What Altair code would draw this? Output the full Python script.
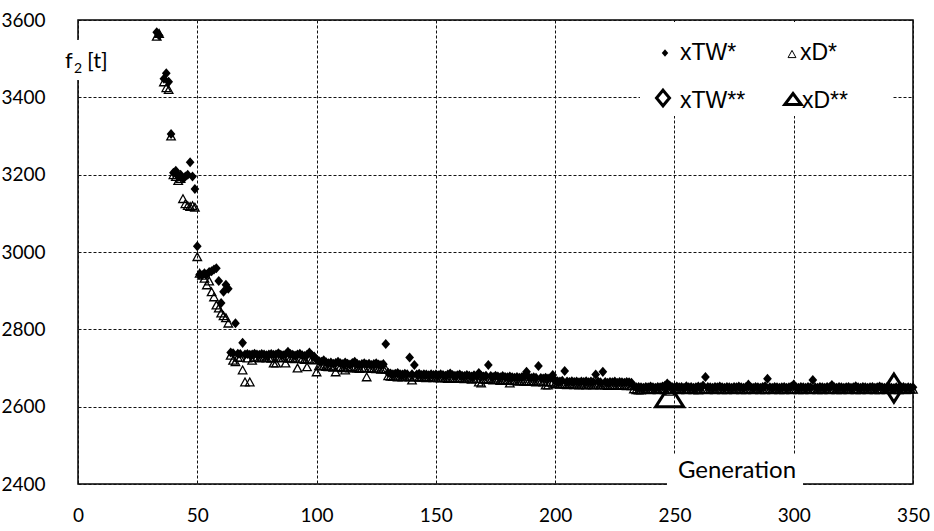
import altair as alt
import pandas as pd

# ---------------- data ----------------
generations = [33, 34] + list(range(36, 351))

xTW_star = [
    3568, 3560,
    3448, 3462, 3440, 3305, 3205, 3210, 3195, 3200, 3190, 3195, 3200, 3232, 3195, 3163, 3015,
    2942, 2940, 2945, 2942, 2948, 2950, 2955, 2958, 2925, 2868, 2897, 2915, 2905,
    2740, 2738, 2816, 2737, 2736, 2765, 2735, 2736, 2734, 2735,
    2737, 2735, 2734, 2736, 2735, 2733, 2735, 2736, 2734, 2735,
    2738, 2734, 2733, 2735, 2742, 2736, 2734, 2732, 2735, 2737,
    2733, 2731, 2734, 2740, 2733, 2730,
    2722, 2718, 2716, 2720, 2715, 2712, 2714, 2711, 2713, 2716,
    2712, 2710, 2714, 2711, 2709, 2713, 2716, 2711, 2708, 2710,
    2712, 2709, 2711, 2708, 2710, 2712, 2709, 2708, 2710, 2762,
    2688, 2686, 2684, 2685, 2687, 2684, 2683, 2685, 2684, 2727,
    2684, 2708, 2683, 2685, 2682, 2684, 2683, 2681, 2684, 2682,
    2683, 2681, 2684, 2682, 2680, 2683, 2686, 2682, 2680, 2681,
    2683, 2680, 2679, 2682, 2680, 2678, 2681, 2679, 2687, 2680,
    2678, 2680, 2708, 2679, 2677, 2680, 2678, 2676, 2679, 2677,
    2676, 2678, 2676, 2675, 2677, 2675, 2676, 2680, 2690, 2676,
    2674, 2676, 2675, 2705, 2674, 2673, 2675, 2673, 2674, 2682,
    2668, 2666, 2665, 2667, 2692, 2665, 2664, 2666, 2664, 2665,
    2663, 2665, 2664, 2666, 2663, 2665, 2664, 2683, 2665, 2663,
    2690, 2664, 2662, 2664, 2663, 2665, 2662, 2664, 2663, 2662,
    2664, 2663, 2662,
    2652, 2650, 2651, 2650, 2649, 2651, 2650, 2652, 2650, 2649,
    2651, 2650, 2652, 2654, 2660, 2655, 2651, 2650, 2652, 2650,
    2651, 2649, 2653, 2650, 2651, 2649, 2650, 2652, 2650, 2655,
    2677, 2651, 2650, 2649, 2651, 2650, 2652, 2650, 2649, 2651,
    2650, 2649, 2651, 2650, 2652, 2650, 2649, 2651, 2657, 2650,
    2649, 2651, 2650, 2649, 2651, 2653, 2672, 2650, 2649, 2651,
    2650, 2649, 2650, 2651, 2649, 2650, 2652, 2657, 2650, 2649,
    2651, 2650, 2649, 2651, 2650, 2669, 2650, 2649, 2651, 2650,
    2649, 2651, 2650, 2656, 2650, 2649, 2651, 2650, 2649, 2650,
    2651, 2649, 2650, 2653, 2650, 2649, 2651, 2650, 2649, 2650,
    2651, 2649, 2650, 2652, 2650, 2649, 2650, 2651, 2649, 2648,
    2650, 2649, 2650, 2651, 2649, 2650, 2649, 2650,
]

xD_star = [
    3558, 3565,
    3440, 3425, 3420, 3300, 3200, 3195, 3185, 3190, 3138, 3125, 3120, 3118, 3120, 3116, 2988,
    2945, 2940, 2932, 2915, 2925, 2897, 2884, 2863, 2855, 2842, 2835, 2830, 2816,
    2733, 2720, 2716, 2728, 2727, 2695, 2664, 2726, 2664, 2720,
    2727, 2728, 2726, 2727, 2728, 2726, 2727, 2725, 2713, 2713,
    2727, 2726, 2727, 2713, 2726, 2725, 2726, 2724, 2700, 2725,
    2724, 2722, 2703, 2723, 2722, 2721,
    2690, 2706, 2705, 2707, 2704, 2703, 2705, 2702, 2690, 2704,
    2703, 2701, 2695, 2702, 2700, 2703, 2701, 2700, 2699, 2701,
    2700, 2677, 2700, 2699, 2700, 2698, 2699, 2697, 2698, 2697,
    2680, 2679, 2678, 2679, 2677, 2678, 2677, 2679, 2678, 2677,
    2669, 2677, 2678, 2676, 2677, 2676, 2675, 2677, 2676, 2675,
    2676, 2675, 2674, 2676, 2675, 2673, 2675, 2674, 2673, 2675,
    2674, 2673, 2672, 2674, 2673, 2671, 2673, 2672, 2664, 2661,
    2671, 2670, 2672, 2670, 2669, 2671, 2670, 2668, 2670, 2669,
    2668, 2661, 2668, 2667, 2668, 2666, 2667, 2666, 2665, 2667,
    2666, 2665, 2664, 2666, 2665, 2664, 2656, 2656, 2664, 2663,
    2660, 2659, 2658, 2660, 2658, 2657, 2659, 2658, 2657, 2658,
    2656, 2658, 2657, 2656, 2658, 2657, 2656, 2657, 2658, 2656,
    2657, 2656, 2655, 2657, 2656, 2655, 2656, 2655, 2656, 2655,
    2654, 2655, 2654,
    2646, 2644, 2643, 2643, 2645, 2646, 2645, 2644, 2646, 2645,
    2644, 2646, 2645, 2644, 2645, 2640, 2645, 2646, 2645, 2644,
    2646, 2645, 2644, 2645, 2646, 2644, 2645, 2643, 2645, 2646,
    2645, 2644, 2646, 2645, 2644, 2645, 2646, 2644, 2645, 2644,
    2646, 2645, 2644, 2645, 2646, 2644, 2645, 2644, 2646, 2645,
    2644, 2645, 2646, 2644, 2645, 2644, 2646, 2645, 2644, 2645,
    2646, 2644, 2645, 2644, 2646, 2645, 2644, 2645, 2646, 2644,
    2645, 2644, 2646, 2645, 2644, 2645, 2646, 2644, 2645, 2644,
    2646, 2645, 2644, 2645, 2646, 2644, 2645, 2644, 2646, 2645,
    2644, 2645, 2646, 2644, 2645, 2644, 2646, 2645, 2644, 2645,
    2646, 2644, 2645, 2644, 2646, 2645, 2644, 2645, 2646, 2644,
    2645, 2644, 2646, 2645, 2644, 2645, 2646, 2645,
]

xTW_best_gen = [342]
xTW_best = [2648]
xD_best_gen = [248]
xD_best = [2628]

x_ticks = [0, 50, 100, 150, 200, 250, 300, 350]
y_ticks = [2400, 2600, 2800, 3000, 3200, 3400, 3600]

assert len(generations) == len(xTW_star) == len(xD_star)

df_tw = pd.DataFrame({"gen": generations, "f2": xTW_star})
df_d = pd.DataFrame({"gen": generations, "f2": xD_star})
df_tw2 = pd.DataFrame({"gen": xTW_best_gen, "f2": xTW_best})
df_d2 = pd.DataFrame({"gen": xD_best_gen, "f2": xD_best})
one = pd.DataFrame({"a": [0]})

# ---------------- styling ----------------
LABEL_FONT = "Lato"
LEGEND_FONT = "Liberation Sans"

SMALL_DIAMOND = "M0,-1.15L1,0L0,1.15L-1,0Z"
SMALL_TRI = "M0,-1L1.1,1L-1.1,1Z"
BIG_DIAMOND = "M0,-1.4L0.9,0L0,1.4L-0.9,0Z"
BIG_TRI = "M0,-1L1.27,1L-1.27,1Z"
LEG_DIAMOND = "M0,-1.2L1,0L0,1.2L-1,0Z"
LEG_TRI = "M0,-1L1.5,1L-1.5,1Z"

x_enc = alt.X(
    "gen:Q",
    scale=alt.Scale(domain=[0, 350], nice=False, zero=False),
    axis=alt.Axis(
        values=x_ticks, title=None, grid=True, gridDash=[3, 2], gridColor="#111111",
        gridWidth=1, domain=False, ticks=False, labelPadding=22, labelFont=LABEL_FONT,
        labelFontSize=19, labelColor="black", zindex=0, labelFlush=False, format="d",
    ),
)
y_enc = alt.Y(
    "f2:Q",
    scale=alt.Scale(domain=[2400, 3600], nice=False, zero=False),
    axis=alt.Axis(
        values=y_ticks, title=None, grid=True, gridDash=[3, 2], gridColor="#111111",
        gridWidth=1, domain=False, ticks=False, labelPadding=33, labelFont=LABEL_FONT,
        labelFontSize=19, labelColor="black", zindex=0, labelFlush=False, format="d",
    ),
)

tw_layer = alt.Chart(df_tw).mark_point(
    shape=SMALL_DIAMOND, size=76, filled=True, color="black", opacity=1
).encode(x=x_enc, y=y_enc)

d_layer = alt.Chart(df_d).mark_point(
    shape=SMALL_TRI, size=60, filled=False, stroke="black", strokeWidth=1.3, opacity=1
).encode(x="gen:Q", y="f2:Q")

tw2_layer = alt.Chart(df_tw2).mark_point(
    shape=BIG_DIAMOND, size=400, filled=False, stroke="black", strokeWidth=3, opacity=1
).encode(x="gen:Q", y="f2:Q")

d2_layer = alt.Chart(df_d2).mark_point(
    shape=BIG_TRI, size=484, filled=False, stroke="black", strokeWidth=3, opacity=1
).encode(x="gen:Q", y="f2:Q")


def white_box(x1, x2, y1, y2):
    return alt.Chart(one).mark_rect(color="white").encode(
        x=alt.value(x1), x2=alt.value(x2), y=alt.value(y1), y2=alt.value(y2)
    )


def label(txt, x, y, font, size, align="left", baseline="alphabetic"):
    return alt.Chart(one).mark_text(
        text=txt, font=font, fontSize=size, align=align, baseline=baseline, color="black"
    ).encode(x=alt.value(x), y=alt.value(y))


def symbol(shape, size, x, y, filled, sw):
    if filled:
        m = alt.Chart(one).mark_point(shape=shape, size=size, filled=True, color="black", opacity=1)
    else:
        m = alt.Chart(one).mark_point(shape=shape, size=size, filled=False, stroke="black",
                                      strokeWidth=sw, opacity=1)
    return m.encode(x=alt.value(x), y=alt.value(y))


annotations = [
    # axis title boxes
    white_box(589, 725, 435, 472),
    label("Generation", 659, 451, LABEL_FONT, 24, align="center", baseline="middle"),
    white_box(-15, 37, 20, 60),
    label("f", -13, 48, LABEL_FONT, 22),
    label("2", -4, 53, LABEL_FONT, 14),
    label("[t]", 9, 48, LABEL_FONT, 22),
    # legend
    white_box(562, 815, 2, 96),
    symbol(SMALL_DIAMOND, 42, 587, 33, True, 0),
    label("xTW*", 602, 40, LEGEND_FONT, 23),
    symbol(SMALL_TRI, 52, 714, 34, False, 1),
    label("xD*", 722, 40, LEGEND_FONT, 23),
    symbol(LEG_DIAMOND, 169, 585, 78, False, 3),
    label("xTW**", 602, 88, LEGEND_FONT, 23),
    symbol(LEG_TRI, 121, 715, 79, False, 3),
    label("xD**", 724, 88, LEGEND_FONT, 23),
]

chart = alt.layer(tw_layer, d_layer, tw2_layer, d2_layer, *annotations).properties(
    width=835,
    height=464,
    autosize=alt.AutoSizeParams(type="none"),
    padding={"left": 78, "top": 20, "right": 21, "bottom": 47},
    background="white",
).configure_view(stroke="black", strokeWidth=1.5)

chart.save("out.html", embed_options={"renderer": "svg", "actions": False})
